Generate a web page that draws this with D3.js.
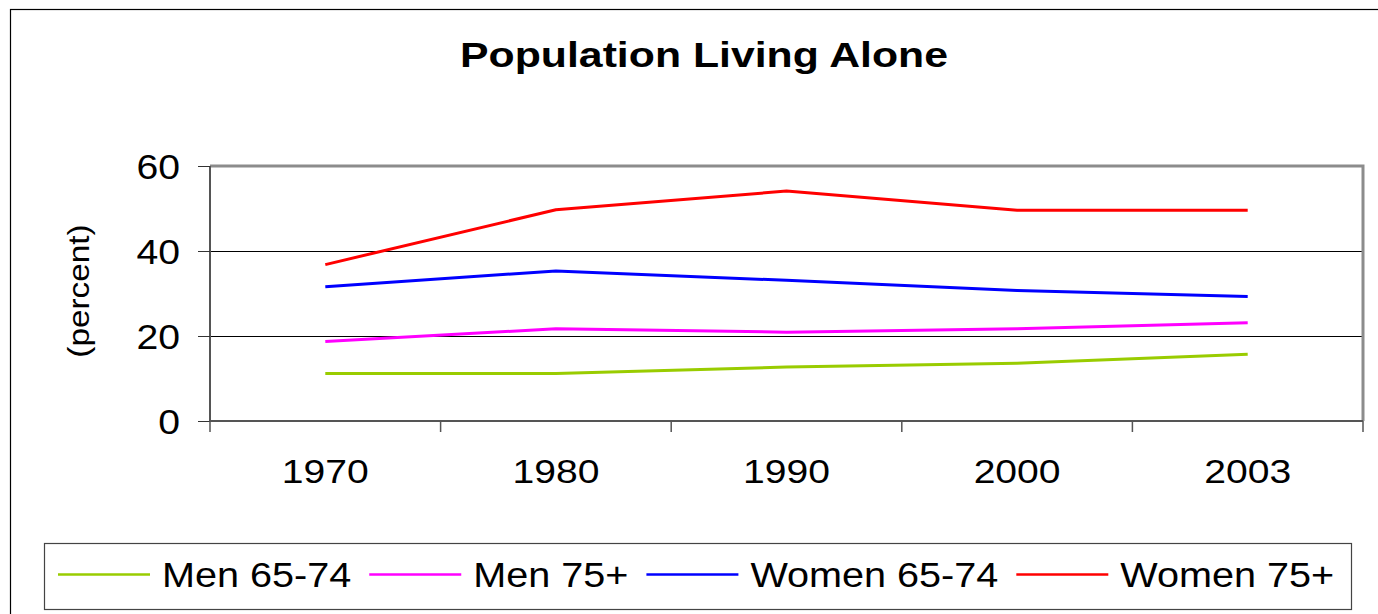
<!DOCTYPE html>
<html>
<head>
<meta charset="utf-8">
<script src="https://cdn.jsdelivr.net/npm/d3@7"></script>
<style>
  body { margin: 0; background: #fff; }
  text { font-family: "Liberation Sans", Arial, sans-serif; fill: #000; }
</style>
</head>
<body>
<div class="chart"></div>
<script>
// data
var years = ["1970", "1980", "1990", "2000", "2003"];
var men6574 = [11.2, 11.2, 12.7, 13.6, 15.7];
var men75 = [18.7, 21.7, 20.9, 21.7, 23.1];
var women6574 = [31.6, 35.3, 33.1, 30.7, 29.3];
var women75 = [36.8, 49.7, 54.1, 49.6, 49.6];
var seriesNames = ["Men 65-74", "Men 75+", "Women 65-74", "Women 75+"];
var yTicks = [0, 20, 40, 60];

var colors = ["#99cc00", "#ff00ff", "#0000ff", "#ff0000"];
var seriesValues = [men6574, men75, women6574, women75];

var svgWidth = 1378;
var svgHeight = 614;

var plot = { left: 210, right: 1363, top: 166, bottom: 421 };

var svg = d3.select(".chart")
  .append("svg")
  .attr("width", svgWidth)
  .attr("height", svgHeight);

// outer chart border (runs off the right and bottom edge)
svg.append("rect")
  .attr("x", 10.5).attr("y", 9.5)
  .attr("width", 1380).attr("height", 620)
  .attr("fill", "none")
  .attr("stroke", "#000")
  .attr("stroke-width", 1.2);

// stretched text helper: the source text is wider than Arial
function stretchText(g, x, y, str, size, sx, opts) {
  opts = opts || {};
  var t = g.append("text")
    .attr("transform", `translate(${x},${y})` + (opts.rotate ? ` rotate(${opts.rotate})` : "") + ` scale(${sx},1)`)
    .attr("text-anchor", opts.anchor || "start")
    .style("font-size", size + "px")
    .text(str);
  if (opts.bold) t.style("font-weight", "bold");
  return t;
}

// title
stretchText(svg, 704, 67, "Population Living Alone", 34.5, 1.24, { anchor: "middle", bold: true });

var xScale = d3.scaleBand()
  .domain(years)
  .range([plot.left, plot.right])
  .padding(0);

var yScale = d3.scaleLinear()
  .domain([0, 60])
  .range([plot.bottom, plot.top]);

var cx = d => xScale(d) + xScale.bandwidth() / 2;

// gridlines, snapped to whole pixels so they stay black
svg.append("g")
  .selectAll("line")
  .data(yTicks.filter(d => d > 0 && d < 60))
  .enter()
  .append("line")
  .attr("x1", plot.left).attr("x2", plot.right)
  .attr("y1", d => Math.round(yScale(d)) + 0.5).attr("y2", d => Math.round(yScale(d)) + 0.5)
  .attr("stroke", "#000")
  .attr("stroke-width", 1);

// plot frame: top and right in gray
svg.append("path")
  .attr("d", `M${plot.left},${plot.top}H${plot.right}V${plot.bottom}`)
  .attr("fill", "none")
  .attr("stroke", "#8c8c8c")
  .attr("stroke-width", 3);

// y axis
var yAxis = svg.append("g");
yAxis.append("line")
  .attr("x1", plot.left).attr("x2", plot.left)
  .attr("y1", plot.top).attr("y2", plot.bottom + 1)
  .attr("stroke", "#555").attr("stroke-width", 2);
yAxis.selectAll(".tick")
  .data(yTicks)
  .enter()
  .append("line")
  .attr("x1", plot.left - 12).attr("x2", plot.left)
  .attr("y1", d => Math.round(yScale(d)) + 0.5).attr("y2", d => Math.round(yScale(d)) + 0.5)
  .attr("stroke", "#333").attr("stroke-width", 1);
yTicks.forEach(function(d) {
  stretchText(yAxis, 180, yScale(d) + 12.5, String(d), 35, 1.12, { anchor: "end" });
});

// y axis title
stretchText(svg, 89, 291, "(percent)", 29, 1.15, { anchor: "middle", rotate: -90 });

// x axis
var xAxis = svg.append("g");
xAxis.append("line")
  .attr("x1", plot.left).attr("x2", plot.right)
  .attr("y1", plot.bottom).attr("y2", plot.bottom)
  .attr("stroke", "#555").attr("stroke-width", 2);
var bounds = years.map(d => xScale(d)).concat([plot.right]);
xAxis.selectAll(".tick")
  .data(bounds)
  .enter()
  .append("line")
  .attr("x1", d => d).attr("x2", d => d)
  .attr("y1", plot.bottom).attr("y2", plot.bottom + 11)
  .attr("stroke", "#555").attr("stroke-width", 1.5);
years.forEach(function(d) {
  stretchText(xAxis, cx(d), 482.5, d, 34, 1.15, { anchor: "middle" });
});

// lines
var line = d3.line()
  .x((d, i) => cx(years[i]))
  .y(d => yScale(d));

svg.append("g")
  .selectAll("path")
  .data(seriesValues)
  .enter()
  .append("path")
  .attr("d", d => line(d))
  .attr("fill", "none")
  .attr("stroke", (d, i) => colors[i])
  .attr("stroke-width", 3)
  .attr("stroke-linejoin", "round");

// legend
var legend = svg.append("g");
legend.append("rect")
  .attr("x", 44.5).attr("y", 543.5)
  .attr("width", 1307).attr("height", 66)
  .attr("fill", "#fff")
  .attr("stroke", "#444")
  .attr("stroke-width", 1.2);

var lx = 58;
var legendY = 574.5;
seriesNames.forEach(function(name, i) {
  legend.append("line")
    .attr("x1", lx).attr("x2", lx + 92)
    .attr("y1", legendY).attr("y2", legendY)
    .attr("stroke", colors[i])
    .attr("stroke-width", 2.5);
  var t = stretchText(legend, lx + 104, legendY + 12.5, name, 36, 1.1);
  lx = lx + 104 + t.node().getComputedTextLength() * 1.1 + 18;
});
</script>
</body>
</html>
